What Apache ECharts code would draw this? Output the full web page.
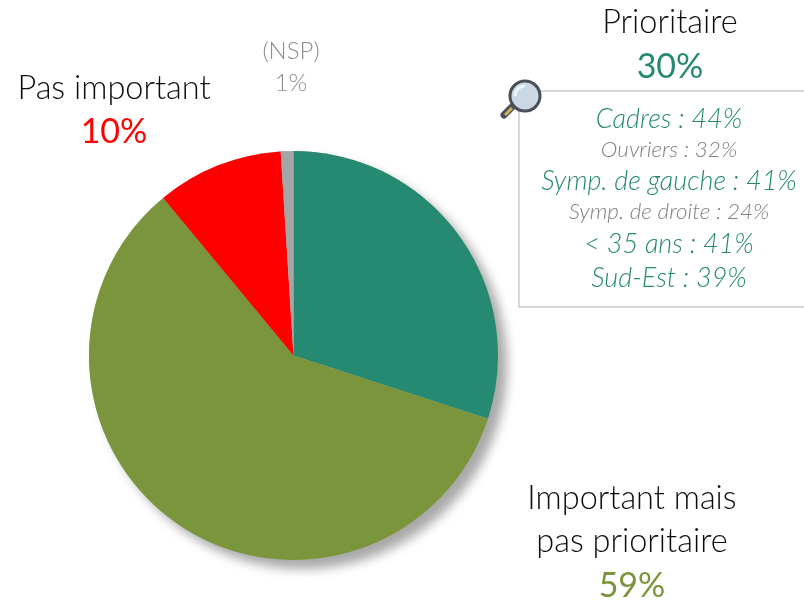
<!DOCTYPE html>
<html><head><meta charset="utf-8">
<style>html,body{margin:0;padding:0;background:#fff}#c{width:804px;height:600px}</style>
<script src="https://cdn.jsdelivr.net/npm/echarts@6/dist/echarts.min.js"></script>
</head><body><div id="c"></div>
<script>
const categories = ["Prioritaire", "Important mais\npas prioritaire", "Pas important", "(NSP)"];
const values = [30, 59, 10, 1];
const colors = ["#268A72", "#7A953B", "#FF0000", "#A6A6A6"];
const detailLabels = ["Cadres : 44%", "Ouvriers : 32%", "Symp. de gauche : 41%", "Symp. de droite : 24%", "< 35 ans : 41%", "Sud-Est : 39%"];
const detailHighlighted = [true, false, true, false, true, true];

const FONT = "Lato, 'Open Sans', sans-serif";
const labelPos = [[670, 45.5], [632, 543], [114, 111], [291, 67]];
const detailY = [119, 150, 181, 212, 244, 278];

const chart = echarts.init(document.getElementById('c'), null, {renderer: 'canvas'});
chart.setOption({
  animation: false,
  backgroundColor: '#fff',
  series: [
    {
      type: 'pie', silent: true, z: 1, radius: 204.5, center: [293.5, 355.5], startAngle: 90,
      label: {show: false}, labelLine: {show: false},
      data: [{value: values.reduce((a, b) => a + b, 0), name: '', itemStyle: {
        color: '#b5b5b5', shadowBlur: 11, shadowOffsetX: 9, shadowOffsetY: 9, shadowColor: 'rgba(0,0,0,0.34)'}}]
    },
    {
      type: 'pie', z: 2, radius: 204.5, center: [293.5, 355.5], startAngle: 90, clockwise: true,
      data: categories.map((n, i) => {
        const big = i < 3;
        return {
          name: n, value: values[i],
          itemStyle: {color: colors[i]},
          label: {
            overflow: 'none',
            formatter: () => n.split('\n').map(s => '{n|' + s + '}').join('\n') + '\n{v|' + values[i] + '%}',
            rich: {
              n: {fontFamily: FONT, fontWeight: 300, fontSize: big ? 32.5 : 24, lineHeight: big ? 43 : 33, color: big ? '#0d0d0d' : '#8c8c8c', align: 'center'},
              v: {fontFamily: FONT, fontWeight: big ? 400 : 300, fontSize: big ? 34 : 24, lineHeight: big ? 45 : 32, color: big ? colors[i] : '#8c8c8c', align: 'center'}
            }
          }
        };
      }),
      label: {show: true, position: 'outside', overflow: 'none', alignTo: 'none', bleedMargin: 0},
      labelLine: {show: false},
      labelLayout: p => ({x: labelPos[p.dataIndex][0], y: labelPos[p.dataIndex][1], align: 'center', verticalAlign: 'middle', hideOverlap: false})
    }
  ],
  graphic: [
    {type: 'polyline', z: 3, shape: {points: [[804, 91], [519, 91], [519, 307], [804, 307]]}, style: {stroke: '#d9d9d9', lineWidth: 2, fill: null}},
    // magnifier
    {type: 'line', z: 4, shape: {x1: 514, y1: 105, x2: 504, y2: 115}, style: {stroke: '#4a4f55', lineWidth: 7, lineCap: 'round'}},
    {type: 'line', z: 5, shape: {x1: 512, y1: 108, x2: 505, y2: 115}, style: {stroke: '#c9b95c', lineWidth: 3}},
    {type: 'circle', z: 5, shape: {cx: 525, cy: 96, r: 15}, style: {fill: '#c9d8e4', stroke: '#4a4f55', lineWidth: 3}},
    {type: 'arc', z: 6, shape: {cx: 525, cy: 96, r: 10, startAngle: Math.PI, endAngle: 1.5 * Math.PI}, style: {stroke: '#eef4f8', lineWidth: 3, fill: null}},
    ...detailLabels.map((t, i) => ({
      type: 'text', z: 4, x: 669, y: detailY[i],
      style: {
        text: t, fontFamily: FONT, fontStyle: 'italic', fontWeight: 300,
        fontSize: detailHighlighted[i] ? 27 : 22.5,
        fill: detailHighlighted[i] ? colors[0] : '#808080',
        align: 'center', verticalAlign: 'middle'
      }
    }))
  ]
});
</script></body></html>
